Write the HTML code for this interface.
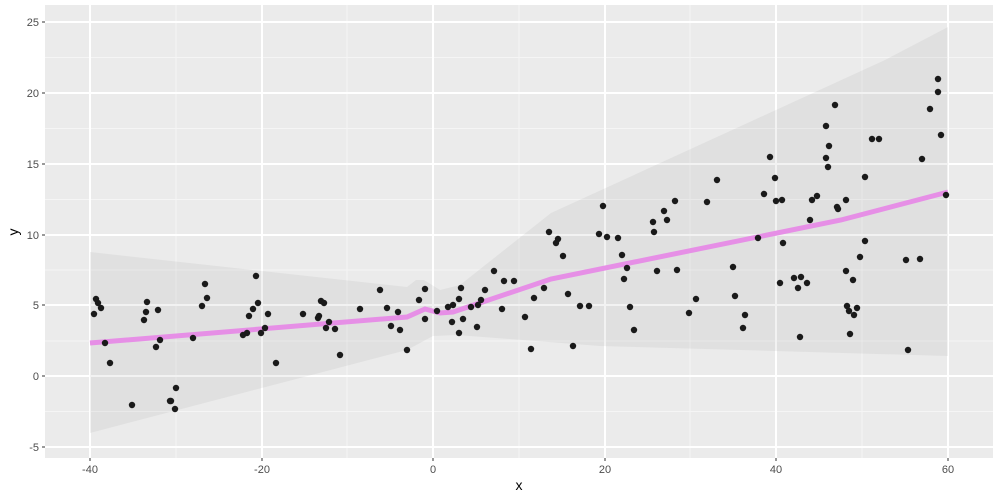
<!DOCTYPE html>
<html><head><meta charset="utf-8"><style>
body{margin:0;background:#fff}
svg{display:block;font-family:"Liberation Sans",sans-serif}
</style></head><body>
<svg width="1000" height="500" xmlns="http://www.w3.org/2000/svg">
<rect x="45" y="5" width="948" height="453" fill="#ebebeb"/>
<g stroke="#f5f5f5" stroke-width="1">
<line x1="45" x2="993" y1="57.5" y2="57.5"/><line x1="45" x2="993" y1="128.5" y2="128.5"/><line x1="45" x2="993" y1="199.5" y2="199.5"/><line x1="45" x2="993" y1="270" y2="270"/><line x1="45" x2="993" y1="341" y2="341"/><line x1="45" x2="993" y1="411.5" y2="411.5"/>
<line y1="5" y2="458" x1="176" x2="176"/><line y1="5" y2="458" x1="347" x2="347"/><line y1="5" y2="458" x1="519" x2="519"/><line y1="5" y2="458" x1="690" x2="690"/><line y1="5" y2="458" x1="862" x2="862"/>
</g>
<g stroke="#fff" stroke-width="2">
<line x1="45" x2="993" y1="22" y2="22"/><line x1="45" x2="993" y1="93" y2="93"/><line x1="45" x2="993" y1="164" y2="164"/><line x1="45" x2="993" y1="235" y2="235"/><line x1="45" x2="993" y1="305" y2="305"/><line x1="45" x2="993" y1="376" y2="376"/><line x1="45" x2="993" y1="447" y2="447"/>
<line y1="5" y2="458" x1="90" x2="90"/><line y1="5" y2="458" x1="262" x2="262"/><line y1="5" y2="458" x1="433" x2="433"/><line y1="5" y2="458" x1="605" x2="605"/><line y1="5" y2="458" x1="776" x2="776"/><line y1="5" y2="458" x1="948" x2="948"/>
</g>
<polygon fill="#999" fill-opacity="0.13" points="90,252 407,287 416,280 424,280 440,290 460,285 551,213 885,60 948,27 948,356 600,346 457,335 433,336 407,350 90,433"/>
<polyline fill="none" stroke="#e68fe6" stroke-width="5" points="90,343 407,317 425,309 440,313 453,312 551,279 841,220 948,192"/>
<g fill="#1a1a1a">
<circle cx="94" cy="314" r="3.2"/><circle cx="96" cy="299" r="3.2"/><circle cx="98" cy="303" r="3.2"/><circle cx="101" cy="308" r="3.2"/><circle cx="105" cy="343" r="3.2"/><circle cx="110" cy="363" r="3.2"/><circle cx="132" cy="405" r="3.2"/><circle cx="144" cy="320" r="3.2"/><circle cx="146" cy="312" r="3.2"/><circle cx="147" cy="302" r="3.2"/><circle cx="158" cy="310" r="3.2"/><circle cx="156" cy="347" r="3.2"/><circle cx="160" cy="340" r="3.2"/><circle cx="170" cy="401" r="3.2"/><circle cx="171" cy="401" r="3.2"/><circle cx="175" cy="409" r="3.2"/><circle cx="176" cy="388" r="3.2"/><circle cx="193" cy="338" r="3.2"/><circle cx="202" cy="306" r="3.2"/><circle cx="205" cy="284" r="3.2"/><circle cx="207" cy="298" r="3.2"/><circle cx="243" cy="335" r="3.2"/><circle cx="247" cy="333" r="3.2"/><circle cx="249" cy="316" r="3.2"/><circle cx="253" cy="309" r="3.2"/><circle cx="256" cy="276" r="3.2"/><circle cx="258" cy="303" r="3.2"/><circle cx="261" cy="333" r="3.2"/><circle cx="265" cy="328" r="3.2"/><circle cx="268" cy="314" r="3.2"/><circle cx="276" cy="363" r="3.2"/><circle cx="303" cy="314" r="3.2"/><circle cx="318" cy="318" r="3.2"/><circle cx="319" cy="316" r="3.2"/><circle cx="321" cy="301" r="3.2"/><circle cx="324" cy="303" r="3.2"/><circle cx="326" cy="328" r="3.2"/><circle cx="329" cy="322" r="3.2"/><circle cx="335" cy="329" r="3.2"/><circle cx="340" cy="355" r="3.2"/><circle cx="360" cy="309" r="3.2"/><circle cx="380" cy="290" r="3.2"/><circle cx="387" cy="308" r="3.2"/><circle cx="391" cy="326" r="3.2"/><circle cx="398" cy="312" r="3.2"/><circle cx="400" cy="330" r="3.2"/><circle cx="407" cy="350" r="3.2"/><circle cx="419" cy="300" r="3.2"/><circle cx="425" cy="319" r="3.2"/><circle cx="425" cy="289" r="3.2"/><circle cx="437" cy="311" r="3.2"/><circle cx="448" cy="307" r="3.2"/><circle cx="453" cy="305" r="3.2"/><circle cx="452" cy="322" r="3.2"/><circle cx="459" cy="333" r="3.2"/><circle cx="459" cy="299" r="3.2"/>
<circle cx="461" cy="288" r="3.2"/><circle cx="463" cy="319" r="3.2"/><circle cx="471" cy="307" r="3.2"/><circle cx="477" cy="327" r="3.2"/><circle cx="478" cy="305" r="3.2"/><circle cx="481" cy="300" r="3.2"/><circle cx="485" cy="290" r="3.2"/><circle cx="494" cy="271" r="3.2"/><circle cx="502" cy="309" r="3.2"/><circle cx="504" cy="281" r="3.2"/><circle cx="514" cy="281" r="3.2"/><circle cx="525" cy="317" r="3.2"/><circle cx="531" cy="349" r="3.2"/><circle cx="534" cy="298" r="3.2"/><circle cx="544" cy="288" r="3.2"/><circle cx="549" cy="232" r="3.2"/><circle cx="556" cy="243" r="3.2"/><circle cx="558" cy="239" r="3.2"/><circle cx="563" cy="256" r="3.2"/><circle cx="568" cy="294" r="3.2"/><circle cx="573" cy="346" r="3.2"/><circle cx="580" cy="306" r="3.2"/><circle cx="589" cy="306" r="3.2"/><circle cx="599" cy="234" r="3.2"/><circle cx="603" cy="206" r="3.2"/><circle cx="607" cy="237" r="3.2"/><circle cx="618" cy="238" r="3.2"/><circle cx="622" cy="255" r="3.2"/><circle cx="624" cy="279" r="3.2"/><circle cx="627" cy="268" r="3.2"/><circle cx="630" cy="307" r="3.2"/><circle cx="634" cy="330" r="3.2"/><circle cx="653" cy="222" r="3.2"/><circle cx="654" cy="232" r="3.2"/><circle cx="657" cy="271" r="3.2"/><circle cx="664" cy="211" r="3.2"/><circle cx="667" cy="220" r="3.2"/><circle cx="675" cy="201" r="3.2"/><circle cx="677" cy="270" r="3.2"/><circle cx="689" cy="313" r="3.2"/><circle cx="696" cy="299" r="3.2"/><circle cx="707" cy="202" r="3.2"/><circle cx="717" cy="180" r="3.2"/><circle cx="733" cy="267" r="3.2"/><circle cx="735" cy="296" r="3.2"/><circle cx="743" cy="328" r="3.2"/><circle cx="745" cy="315" r="3.2"/><circle cx="758" cy="238" r="3.2"/><circle cx="764" cy="194" r="3.2"/><circle cx="770" cy="157" r="3.2"/><circle cx="775" cy="178" r="3.2"/><circle cx="776" cy="201" r="3.2"/><circle cx="782" cy="200" r="3.2"/><circle cx="780" cy="283" r="3.2"/><circle cx="783" cy="243" r="3.2"/><circle cx="794" cy="278" r="3.2"/><circle cx="798" cy="288" r="3.2"/><circle cx="800" cy="337" r="3.2"/><circle cx="801" cy="277" r="3.2"/><circle cx="807" cy="283" r="3.2"/><circle cx="810" cy="220" r="3.2"/><circle cx="812" cy="200" r="3.2"/><circle cx="817" cy="196" r="3.2"/><circle cx="826" cy="126" r="3.2"/><circle cx="826" cy="158" r="3.2"/><circle cx="828" cy="167" r="3.2"/><circle cx="829" cy="146" r="3.2"/><circle cx="835" cy="105" r="3.2"/><circle cx="837" cy="207" r="3.2"/><circle cx="838" cy="209" r="3.2"/><circle cx="846" cy="200" r="3.2"/><circle cx="846" cy="271" r="3.2"/><circle cx="847" cy="306" r="3.2"/><circle cx="849" cy="311" r="3.2"/><circle cx="850" cy="334" r="3.2"/><circle cx="853" cy="280" r="3.2"/><circle cx="854" cy="315" r="3.2"/><circle cx="857" cy="308" r="3.2"/><circle cx="860" cy="257" r="3.2"/><circle cx="865" cy="241" r="3.2"/><circle cx="865" cy="177" r="3.2"/><circle cx="872" cy="139" r="3.2"/><circle cx="879" cy="139" r="3.2"/><circle cx="906" cy="260" r="3.2"/><circle cx="908" cy="350" r="3.2"/><circle cx="920" cy="259" r="3.2"/><circle cx="922" cy="159" r="3.2"/><circle cx="930" cy="109" r="3.2"/><circle cx="938" cy="79" r="3.2"/><circle cx="938" cy="92" r="3.2"/><circle cx="941" cy="135" r="3.2"/><circle cx="946" cy="195" r="3.2"/>
</g>
<g stroke="#333" stroke-width="1">
<line x1="42" x2="45" y1="22" y2="22"/><line x1="42" x2="45" y1="93" y2="93"/><line x1="42" x2="45" y1="164" y2="164"/><line x1="42" x2="45" y1="235" y2="235"/><line x1="42" x2="45" y1="305" y2="305"/><line x1="42" x2="45" y1="376" y2="376"/><line x1="42" x2="45" y1="447" y2="447"/>
<line y1="458" y2="461" x1="90" x2="90"/><line y1="458" y2="461" x1="262" x2="262"/><line y1="458" y2="461" x1="433" x2="433"/><line y1="458" y2="461" x1="605" x2="605"/><line y1="458" y2="461" x1="776" x2="776"/><line y1="458" y2="461" x1="948" x2="948"/>
</g>
<g fill="#4d4d4d" font-size="11" text-anchor="end">
<text x="39" y="26">25</text><text x="39" y="97">20</text><text x="39" y="168">15</text><text x="39" y="239">10</text><text x="39" y="309">5</text><text x="39" y="380">0</text><text x="39" y="451">-5</text>
</g>
<g fill="#4d4d4d" font-size="11" text-anchor="middle">
<text x="90" y="473">-40</text><text x="262" y="473">-20</text><text x="433" y="473">0</text><text x="605" y="473">20</text><text x="776" y="473">40</text><text x="948" y="473">60</text>
</g>
<text x="519" y="490" font-size="14" text-anchor="middle" fill="#000">x</text>
<text x="18" y="232" font-size="14" text-anchor="middle" fill="#000" transform="rotate(-90 18 232)">y</text>
</svg>
</body></html>
